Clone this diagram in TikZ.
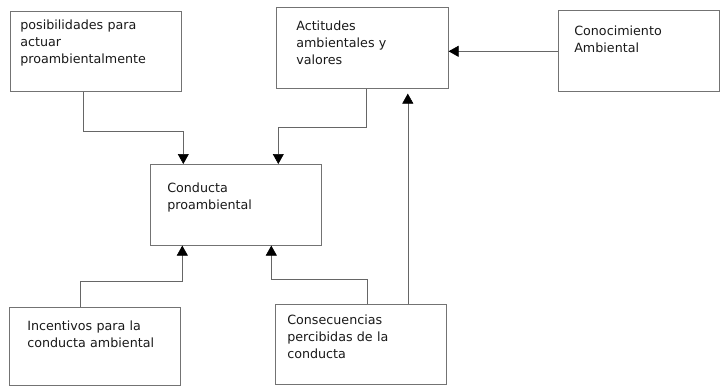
\documentclass[tikz,border=0pt]{standalone}
\usepackage{fontspec}
\setmainfont{DejaVu Sans}
\usetikzlibrary{arrows.meta}

\begin{document}
\begin{tikzpicture}[
    x=1pt, y=-1pt,
    box/.style={draw=black!55, line width=0.6pt, anchor=north west, align=left, inner ysep=0pt, font=\fontsize{12.7}{17}\selectfont, text=black!90},
    conn/.style={draw=black!60, line width=0.6pt, -{Triangle[width=11pt,length=10pt,color=black]}}
    ]
    \useasboundingbox (0,0) rectangle (720,386);

    \node [box, inner xsep=10pt, text width=151pt, text height=18pt, text depth=62pt] (pos) at (10,11) {posibilidades para\\actuar\\proambientalmente};
    \node [box, inner xsep=20pt, text width=132pt, text height=23pt, text depth=58pt] (act) at (276,7) {Actitudes\\ambientales y\\valores};
    \node [box, inner xsep=16pt, text width=129pt, text height=25pt, text depth=56pt] (con) at (558,10) {Conocimiento\\Ambiental};

    \node [box, inner xsep=17pt, text width=137pt, text height=28pt, text depth=53pt] (cond) at (150,164) {Conducta\\proambiental};

    \node [box, inner xsep=18pt, text width=135pt, text height=23pt, text depth=55pt] (inc) at (9,307) {Incentivos para la\\conducta ambiental};
    \node [box, inner xsep=12pt, text width=147pt, text height=20pt, text depth=60pt] (cons) at (275,304) {Consecuencias\\percibidas de la\\conducta};

    \draw [conn] ([xshift=-12.5pt]pos.south) -- ++(0,40) -| ([xshift=-52.5pt]cond.north);
    \draw [conn] ([xshift=4pt]act.south) -- ++(0,39) -| ([xshift=42.5pt]cond.north);
    \draw [conn] ([yshift=-0.5pt]con.west) -- ([yshift=-0.5pt]con.west -| act.east);

    \coordinate (up) at ([xshift=47pt]cons.north);
    \draw [conn, shorten >=5pt] (up) -- (up |- act.south);

    \draw [conn] ([xshift=-14.5pt]inc.north) -- ++(0,-26) -| ([xshift=-53.5pt]cond.south);
    \draw [conn] ([xshift=6.5pt]cons.north) -- ++(0,-25) -| ([xshift=35.5pt]cond.south);
\end{tikzpicture}
\end{document}
